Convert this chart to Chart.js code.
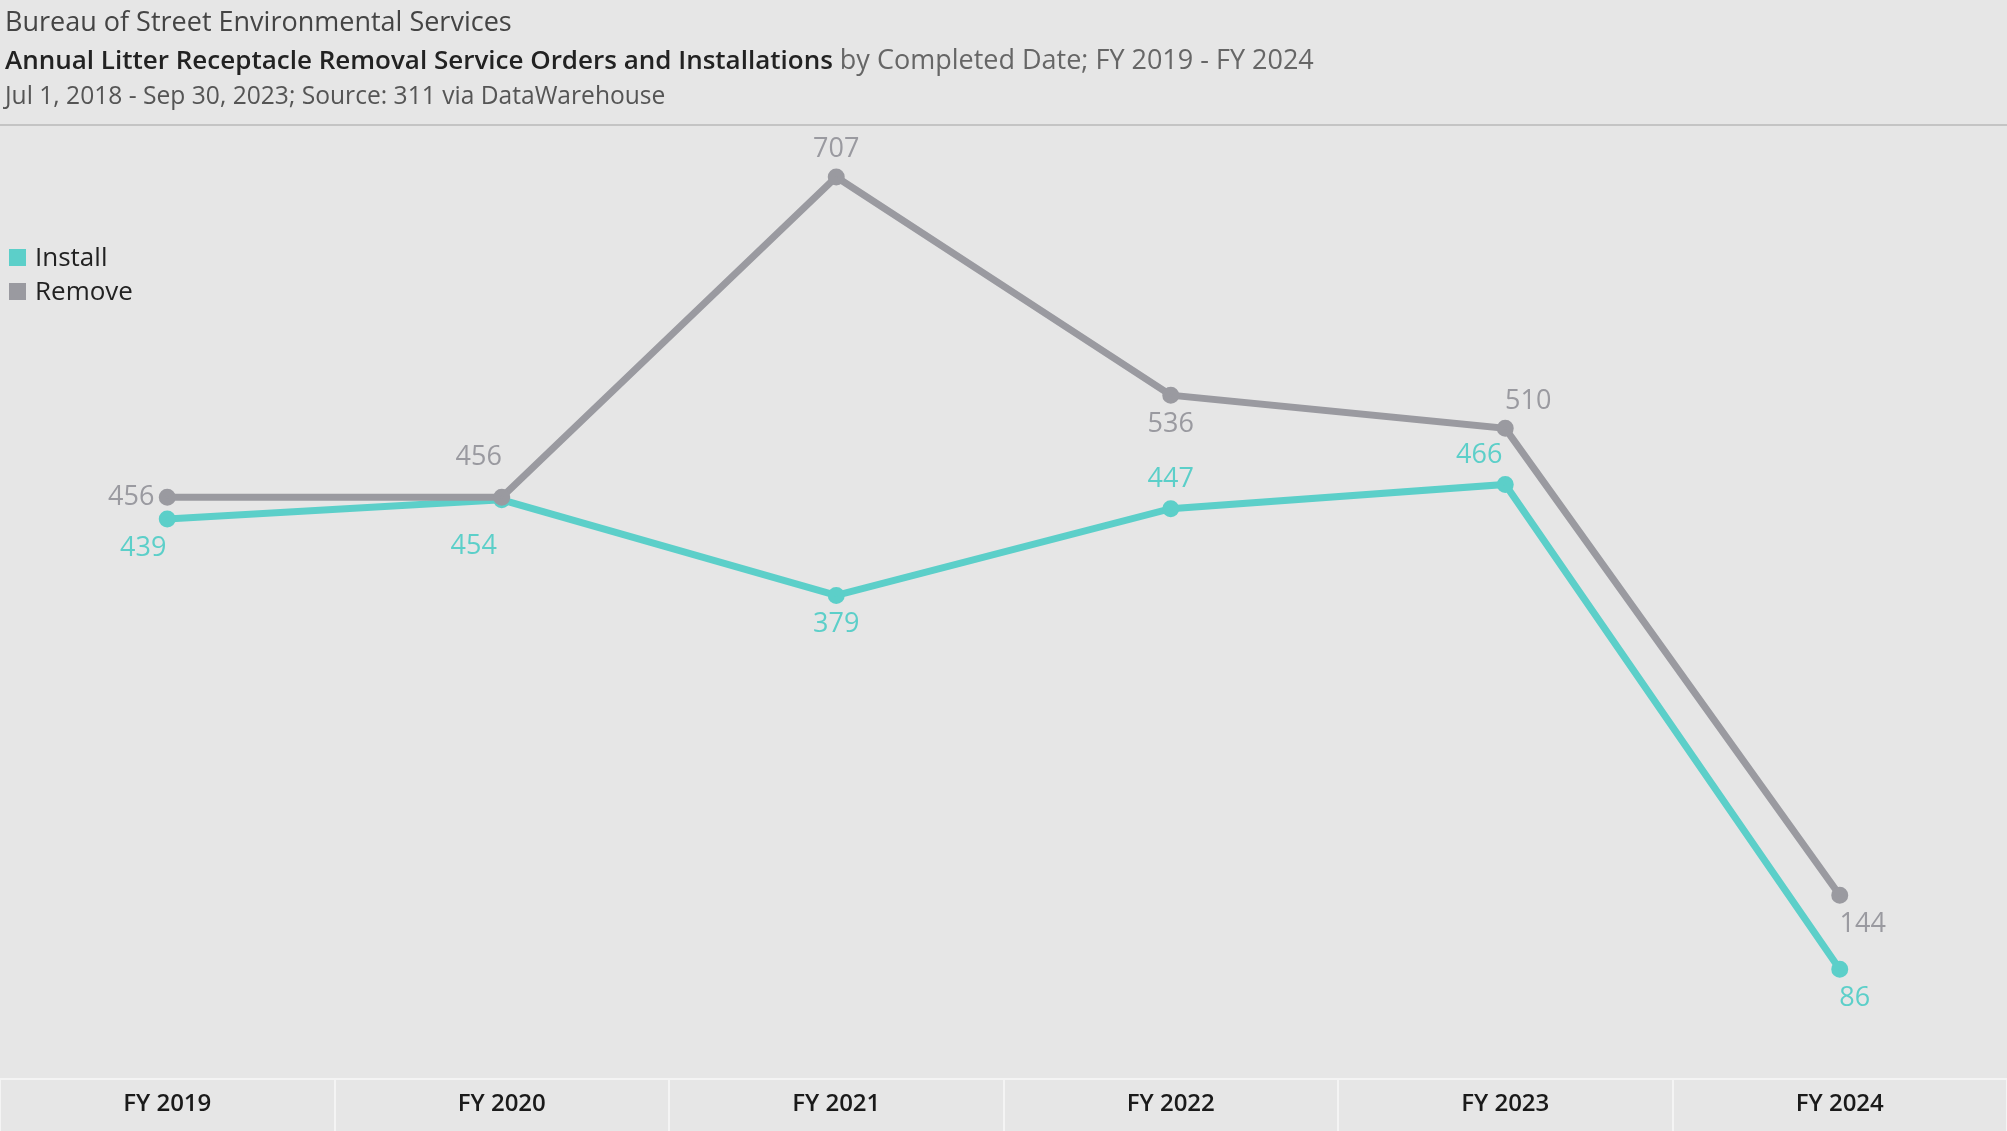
<!DOCTYPE html>
<html>
<head>
<meta charset="utf-8">
<script src="https://cdn.jsdelivr.net/npm/chart.js@4.4.0/dist/chart.umd.min.js"></script>
<style>
  html, body { margin: 0; padding: 0; background: #e6e6e6; }
  body { width: 2007px; height: 1131px; position: relative; overflow: hidden; font-family: "Open Sans", sans-serif; }
  #wrap { position: absolute; left: 0; top: 0; width: 2007px; height: 1131px; }
  .hd { position: absolute; left: 5px; white-space: nowrap; line-height: 36px; }
  #l1 { top: 3px; font-size: 27px; color: #444; }
  #l2 { top: 41px; font-size: 27px; color: #666; }
  #l2 b { color: #222; font-weight: 600; font-size: 26px; }
  #l3 { top: 77px; font-size: 24.6px; color: #555; }
  #sep { position: absolute; left: 0; top: 124px; width: 2007px; height: 2px; background: #c4c4c4; }
  #legend { position: absolute; left: 9px; top: 239px; font-size: 26px; color: #222; }
  #legend div { height: 34px; line-height: 34px; }
  #legend span { display: inline-block; width: 17px; height: 17px; margin-right: 9px; vertical-align: 0px; }
</style>
</head>
<body>
<div id="wrap"><canvas id="myChart" width="2007" height="1131"></canvas></div>
<div class="hd" id="l1">Bureau of Street Environmental Services</div>
<div class="hd" id="l2"><b>Annual Litter Receptacle Removal Service Orders and Installations</b> by Completed Date; FY 2019 - FY 2024</div>
<div class="hd" id="l3">Jul 1, 2018 - Sep 30, 2023; Source: 311 via DataWarehouse</div>
<div id="sep"></div>
<div id="legend">
  <div><span style="background:#5ccfc9"></span>Install</div>
  <div><span style="background:#9a9aa0"></span>Remove</div>
</div>
<script>
// data
const years = ['FY 2019', 'FY 2020', 'FY 2021', 'FY 2022', 'FY 2023', 'FY 2024'];
const installs = [439, 454, 379, 447, 466, 86];
const removes = [456, 456, 707, 536, 510, 144];

// label offsets (px) for each point label
const installOffsets = [[-24, 29], [-28, 47], [0, 29], [0, -29], [-26, -29], [15, 29]];
const removeOffsets = [[-36, 0], [-23, -40], [0, -28], [0, 29], [23, -27], [23, 29]];

const tealColor = '#5ccfc9';
const greyColor = '#9a9aa0';

const valueLabels = {
  id: 'valueLabels',
  afterDatasetsDraw(chart) {
    const c = chart.ctx;
    c.save();
    c.font = '27px "Open Sans", sans-serif';
    c.textAlign = 'center';
    c.textBaseline = 'middle';
    chart.data.datasets.forEach((ds, i) => {
      const meta = chart.getDatasetMeta(i);
      meta.data.forEach((pt, j) => {
        const off = ds.labelOffsets[j];
        c.fillStyle = ds.borderColor;
        c.fillText(ds.data[j], pt.x + off[0], pt.y + off[1]);
      });
    });
    c.restore();
  }
};

const ctx = document.getElementById('myChart').getContext('2d');

new Chart(ctx, {
  type: 'line',
  data: {
    labels: years,
    datasets: [{
      label: 'Remove',
      data: removes,
      borderColor: greyColor,
      backgroundColor: greyColor,
      borderWidth: 7,
      pointRadius: 5,
      labelOffsets: removeOffsets,
      fill: false
    }, {
      label: 'Install',
      data: installs,
      borderColor: tealColor,
      backgroundColor: tealColor,
      borderWidth: 7,
      pointRadius: 5,
      labelOffsets: installOffsets,
      fill: false
    }]
  },
  options: {
    responsive: false,
    animation: false,
    layout: { autoPadding: false, padding: { top: 126, left: 0, right: 0, bottom: 0 } },
    plugins: {
      legend: { display: false },
      tooltip: { enabled: false }
    },
    scales: {
      x: {
        offset: true,
        border: { color: '#f4f4f4', width: 2 },
        grid: {
          offset: true,
          drawOnChartArea: false,
          drawTicks: true,
          tickLength: 52,
          color: '#f4f4f4',
          lineWidth: 2
        },
        ticks: {
          padding: -41,
          color: '#1a1a1a',
          font: { family: '"Open Sans", sans-serif', size: 24, weight: '600' }
        },
        afterFit(scale) { scale.height = 52; }
      },
      y: {
        display: false,
        min: 0,
        max: 747
      }
    }
  },
  plugins: [valueLabels]
});
</script>
</body>
</html>
